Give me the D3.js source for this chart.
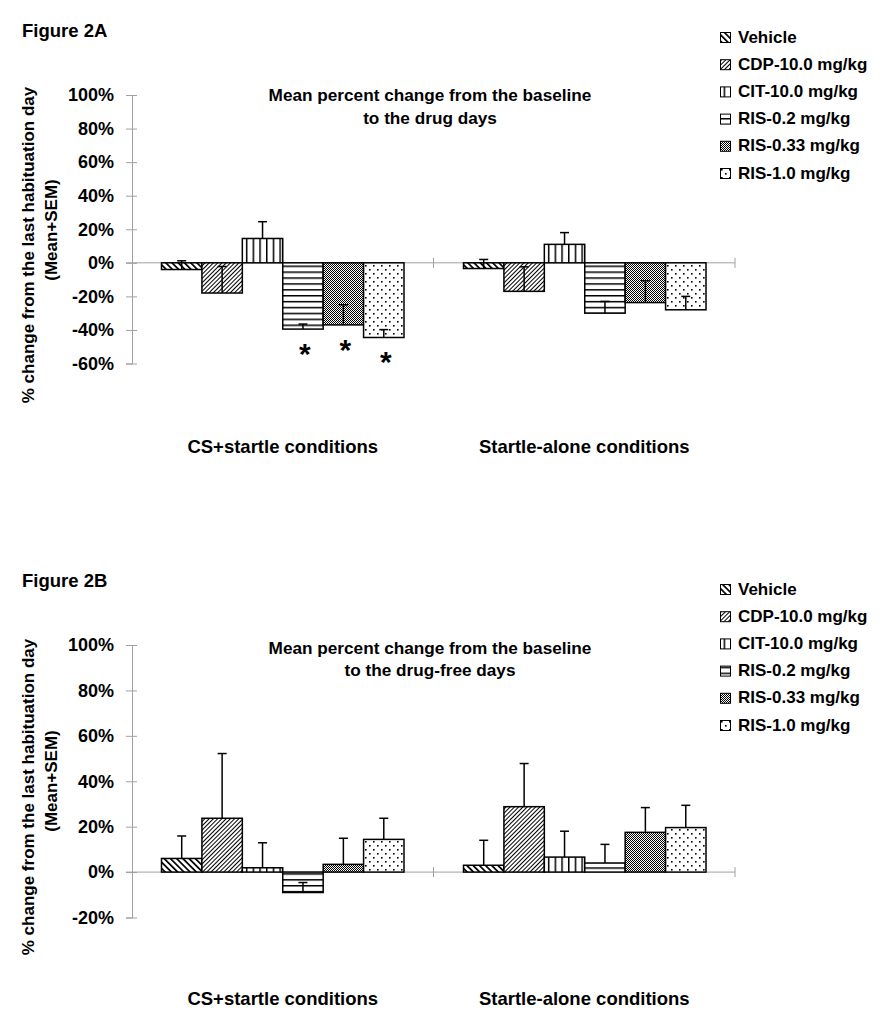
<!DOCTYPE html>
<html>
<head>
<meta charset="utf-8">
<script src="https://cdn.jsdelivr.net/npm/d3@7"></script>
<style>
  html, body { margin: 0; padding: 0; background: #fff; }
  svg { display: block; }
  text { font-family: "Liberation Sans", Arial, sans-serif; font-weight: bold; fill: #000; }
</style>
</head>
<body>
<svg id="chart" width="888" height="1036"></svg>
<script>
// ---------------- DATA ----------------
const categories = ["CS+startle conditions", "Startle-alone conditions"];
const treatments = ["Vehicle", "CDP-10.0 mg/kg", "CIT-10.0 mg/kg", "RIS-0.2 mg/kg", "RIS-0.33 mg/kg", "RIS-1.0 mg/kg"];

// Figure 2A: drug days (mean % change, SEM)
const meanA_CS = [-4, -18, 14.5, -39.5, -37, -44.5];
const semA_CS  = [5.2, 15.8, 10, 3, 12, 4.7];
const meanA_SA = [-3.4, -17, 11, -30, -23.7, -28];
const semA_SA  = [5.4, 14.6, 7, 7, 13, 8];
const sigA_CS  = ["", "", "", "*", "*", "*"];
const sigA_SA  = ["", "", "", "", "", ""];

// Figure 2B: drug-free days
const meanB_CS = [6, 23.7, 1.9, -9, 3.4, 14.4];
const semB_CS  = [9.9, 28.5, 11, 4.4, 11.5, 9.3];
const meanB_SA = [3, 28.8, 6.6, 4, 17.5, 19.6];
const semB_SA  = [11, 19, 11.4, 8.2, 10.9, 9.8];
const sigB     = ["", "", "", "", "", ""];

const ticksA = [-60, -40, -20, 0, 20, 40, 60, 80, 100];
const ticksB = [-20, 0, 20, 40, 60, 80, 100];

const figLabels = ["Figure 2A", "Figure 2B"];
const titlesA = ["Mean percent change from the baseline", "to the drug days"];
const titlesB = ["Mean percent change from the baseline", "to the drug-free days"];
const yTitle = ["% change from the last habituation day", "(Mean+SEM)"];

// ---------------- DRAW ----------------
const svg = d3.select("#chart");
const defs = svg.append("defs");
const patIds = ["p-veh", "p-cdp", "p-cit", "p-r02", "p-r033", "p-r10"];

function stripePattern(id, spacing, sw, angle) {
  const p = defs.append("pattern").attr("id", id)
    .attr("patternUnits", "userSpaceOnUse")
    .attr("width", spacing).attr("height", 10)
    .attr("patternTransform", `rotate(${angle})`);
  p.append("rect").attr("width", spacing).attr("height", 10).attr("fill", "#fff");
  p.append("rect").attr("x", 0).attr("y", 0).attr("width", sw).attr("height", 10).attr("fill", "#000");
}
stripePattern("p-veh", 4.4, 1.7, -45);
stripePattern("p-cdp", 3.0, 1.0, 45);
stripePattern("p-cit", 6.7, 1.5, 0);
stripePattern("p-r02", 5.9, 1.5, 90);
{
  const p = defs.append("pattern").attr("id", "p-r033")
    .attr("patternUnits", "userSpaceOnUse").attr("width", 2).attr("height", 2);
  p.append("rect").attr("width", 2).attr("height", 2).attr("fill", "#fff");
  p.append("rect").attr("x", 0).attr("y", 0).attr("width", 1).attr("height", 1).attr("fill", "#000");
  p.append("rect").attr("x", 1).attr("y", 1).attr("width", 1).attr("height", 1).attr("fill", "#000");
}
{
  const p = defs.append("pattern").attr("id", "p-r10")
    .attr("patternUnits", "userSpaceOnUse").attr("width", 8).attr("height", 8);
  p.append("rect").attr("width", 8).attr("height", 8).attr("fill", "#fff");
  p.append("rect").attr("x", 1).attr("y", 1).attr("width", 1.6).attr("height", 1.6).attr("fill", "#000");
  p.append("rect").attr("x", 5).attr("y", 5).attr("width", 1.6).attr("height", 1.6).attr("fill", "#000");
}

const axisGrey = "#a0a0a0";

function drawPanel(cfg) {
  const g = svg.append("g");
  const y = d3.scaleLinear().domain([cfg.ticks[0], cfg.ticks[cfg.ticks.length - 1]]).range(cfg.yRange);
  const x0 = d3.scaleBand().domain(categories).range([132, 735]).paddingInner(0).paddingOuter(0);
  const x1 = d3.scaleBand().domain(treatments).range([0, x0.bandwidth()]).paddingInner(0).paddingOuter(0.73);

  // y axis
  const yAxis = d3.axisLeft(y).tickValues(cfg.ticks).tickFormat(d => d + "%").tickSize(6).tickPadding(12);
  const ya = g.append("g").attr("transform", "translate(132,0)").call(yAxis);
  ya.select(".domain").attr("stroke", axisGrey).attr("stroke-width", 1);
  ya.selectAll(".tick line").attr("stroke", axisGrey).attr("x1", 5).attr("x2", -6);
  ya.selectAll(".tick text").attr("font-size", 18).attr("font-family", "Liberation Sans, Arial, sans-serif").attr("font-weight", "bold").attr("fill", "#000");

  // category axis at zero
  const y0 = y(0);
  g.append("line").attr("x1", 126).attr("x2", x0.range()[1]).attr("y1", y0).attr("y2", y0)
    .attr("stroke", axisGrey).attr("stroke-width", 1);
  g.selectAll(".ctick").data(categories).enter().append("line")
    .attr("x1", d => x0(d) + x0.bandwidth()).attr("x2", d => x0(d) + x0.bandwidth())
    .attr("y1", y0 - 5).attr("y2", y0 + 5).attr("stroke", axisGrey);

  // bars
  cfg.series.forEach((s, ci) => {
    const cat = categories[ci];
    const gg = g.append("g").attr("transform", `translate(${Math.round(x0(cat))},0)`);
    treatments.forEach((t, i) => {
      const v = s.mean[i];
      gg.append("rect")
        .attr("x", x1(t)).attr("width", x1.bandwidth())
        .attr("y", Math.min(y(v), y0)).attr("height", Math.abs(y(v) - y0))
        .attr("fill", `url(#${patIds[i]})`).attr("stroke", "#000").attr("stroke-width", 1.5);
    });
    treatments.forEach((t, i) => {
      const v = s.mean[i], e = s.sem[i];
      const cx = x1(t) + x1.bandwidth() / 2;
      gg.append("line").attr("x1", cx).attr("x2", cx).attr("y1", y(v)).attr("y2", y(v + e))
        .attr("stroke", "#000").attr("stroke-width", 1.5);
      gg.append("line").attr("x1", cx - 4.5).attr("x2", cx + 4.5).attr("y1", y(v + e)).attr("y2", y(v + e))
        .attr("stroke", "#000").attr("stroke-width", 1.5);
      if (s.sig[i]) {
        gg.append("text").attr("x", cx + 2).attr("y", y(v) + 35)
          .attr("text-anchor", "middle").attr("font-size", 30).attr("font-weight", "normal")
          .text(s.sig[i]);
      }
    });
  });

  // category labels
  const yb = cfg.yRange[0];
  g.selectAll(".clab").data(categories).enter().append("text")
    .attr("x", d => x0(d) + x0.bandwidth() / 2).attr("y", yb + cfg.catLabelOffset)
    .attr("text-anchor", "middle").attr("font-size", 18.5).text(d => d);

  // titles
  cfg.title.forEach((t, i) => {
    g.append("text").attr("x", 430).attr("y", cfg.titleY + i * 22.5)
      .attr("text-anchor", "middle").attr("font-size", 17.2).text(t);
  });

  // figure label
  g.append("text").attr("x", 22).attr("y", cfg.figY).attr("font-size", 18.5).text(cfg.fig);

  // y title
  g.append("text").attr("transform", `translate(34,${cfg.yTitleC[0]}) rotate(-90)`)
    .attr("text-anchor", "middle").attr("font-size", 17).text(yTitle[0]);
  g.append("text").attr("transform", `translate(57,${cfg.yTitleC[1]}) rotate(-90)`)
    .attr("text-anchor", "middle").attr("font-size", 17).text(yTitle[1]);

  // legend
  treatments.forEach((t, i) => {
    const ly = cfg.legendY + i * 27.2;
    g.append("rect").attr("x", 720.5).attr("y", ly - 10).attr("width", 10).attr("height", 10)
      .attr("fill", `url(#${patIds[i]})`).attr("stroke", "#000").attr("stroke-width", 1);
    g.append("text").attr("x", 738).attr("y", ly).attr("font-size", 17).text(t);
  });
}

drawPanel({
  ticks: ticksA, yRange: [363.5, 95],
  series: [
    { mean: meanA_CS, sem: semA_CS, sig: sigA_CS },
    { mean: meanA_SA, sem: semA_SA, sig: sigA_SA }
  ],
  title: titlesA, titleY: 101, fig: figLabels[0], figY: 36.5,
  yTitleC: [245, 230], legendY: 42.5, catLabelOffset: 89
});

drawPanel({
  ticks: ticksB, yRange: [917.5, 645],
  series: [
    { mean: meanB_CS, sem: semB_CS, sig: sigB },
    { mean: meanB_SA, sem: semB_SA, sig: sigB }
  ],
  title: titlesB, titleY: 653.5, fig: figLabels[1], figY: 587,
  yTitleC: [797, 781], legendY: 594.5, catLabelOffset: 87
});
</script>
</body>
</html>
